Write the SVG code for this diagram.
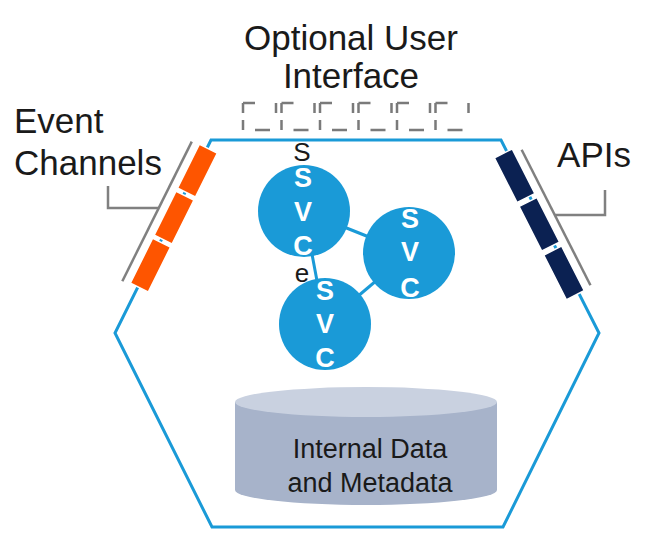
<svg xmlns="http://www.w3.org/2000/svg" width="646" height="545" viewBox="0 0 646 545">
<style>
.lbl{font-family:"Liberation Sans",Arial,sans-serif;font-size:35px;fill:#1a1a1a;text-anchor:middle}
.svc{font-family:"Liberation Sans",Arial,sans-serif;font-size:27px;font-weight:bold;fill:#ffffff;text-anchor:middle}
.blk{font-family:"Liberation Sans",Arial,sans-serif;font-size:26px;fill:#1a1a1a;text-anchor:middle}
.db{font-family:"Liberation Sans",Arial,sans-serif;font-size:27px;fill:#1a1a1a;text-anchor:middle}
.circ{fill:#1a9ad7}
.link{stroke:#1a9ad7;stroke-width:3;fill:none}
.gray{stroke:#808080;stroke-width:2.5;fill:none}
.ev{fill:#fe5500;stroke:#ffffff;stroke-width:1.5}
.api{fill:#0b2152;stroke:#ffffff;stroke-width:1.5}
.ui{fill:none;stroke:#7a7a7a;stroke-width:2.5;stroke-dasharray:12 21 10 23 15 12 10 7 10 0}
</style>
<rect width="646" height="545" fill="#ffffff"/>
<g id="hexagon">
<polygon points="211,140 501,140 599,333 503,527 212,527 115,333" fill="none" stroke="#1a9ad7" stroke-width="3"/>
</g>
<g id="optional-ui">
<rect class="ui" x="243" y="103" width="33" height="27"/>
<rect class="ui" x="281.5" y="103" width="33" height="27"/>
<rect class="ui" x="320" y="103" width="33" height="27"/>
<rect class="ui" x="358.5" y="103" width="33" height="27"/>
<rect class="ui" x="397" y="103" width="33" height="27"/>
<rect class="ui" x="435.5" y="103" width="33" height="27"/>
<text class="lbl" x="351" y="50">Optional User</text>
<text class="lbl" x="351" y="88">Interface</text>
</g>
<g id="event-channels">
<g transform="translate(211,140) rotate(116.44)">
<rect class="ev" x="9" y="-11.5" width="49" height="20"/>
<rect class="ev" x="61.5" y="-11.5" width="49" height="20"/>
<rect class="ev" x="114" y="-11.5" width="50" height="20"/>
<line class="gray" x1="10" y1="16.5" x2="166" y2="16.5"/>
</g>
<text class="lbl" x="14" y="133" style="text-anchor:start">Event</text>
<text class="lbl" x="14" y="175" style="text-anchor:start">Channels</text>
</g>
<g id="apis">
<g transform="translate(501,140) rotate(63.08)">
<rect class="api" x="13" y="-6" width="50" height="20"/>
<rect class="api" x="67.5" y="-6" width="50" height="20"/>
<rect class="api" x="122" y="-6" width="50" height="20"/>
<line class="gray" x1="18" y1="-14" x2="170" y2="-14"/>
</g>
<text class="lbl" x="594" y="167">APIs</text>
</g>
<g id="connectors">
<line class="link" x1="304" y1="211" x2="409" y2="253"/>
<line class="link" x1="304" y1="211" x2="325" y2="324"/>
<line class="link" x1="409" y1="253" x2="325" y2="324"/>
<polyline class="gray" points="108,186 108,208 159,208"/>
<polyline class="gray" points="555,215 605,215 605,190"/>
</g>
<g id="svc1">
<circle class="circ" cx="304" cy="211" r="46"/>
<text class="blk" x="302" y="161">S</text>
<text class="svc" x="303" y="187">S</text>
<text class="svc" x="303" y="221">V</text>
<text class="svc" x="303" y="255">C</text>
<text class="blk" x="302" y="282">e</text>
</g>
<g id="svc2">
<circle class="circ" cx="409" cy="253" r="46"/>
<text class="svc" x="410" y="228">S</text>
<text class="svc" x="410" y="261">V</text>
<text class="svc" x="410" y="297">C</text>
</g>
<g id="svc3">
<circle class="circ" cx="325" cy="324" r="46"/>
<text class="svc" x="325" y="300">S</text>
<text class="svc" x="325" y="333">V</text>
<text class="svc" x="325" y="367">C</text>
</g>
<g id="datastore">
<path d="M235,402 L235,490 A131,15 0 0 0 497,490 L497,402 Z" fill="#a7b3ca"/>
<ellipse cx="366" cy="402" rx="131" ry="15" fill="#c9d1e0"/>
<text class="db" x="370" y="458">Internal Data</text>
<text class="db" x="370" y="492">and Metadata</text>
</g>
</svg>
